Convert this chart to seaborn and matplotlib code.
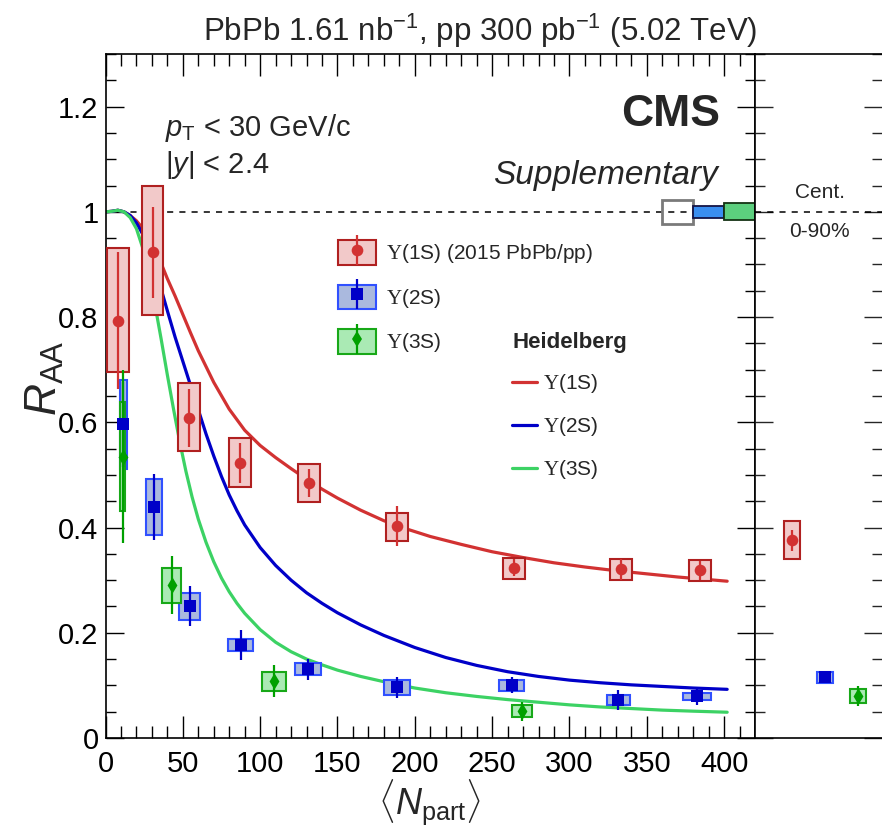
import matplotlib
matplotlib.use("Agg")
import matplotlib.pyplot as plt
import numpy as np
import pandas as pd
import seaborn as sns
from matplotlib.patches import Rectangle
from matplotlib.lines import Line2D
from matplotlib.legend_handler import HandlerTuple
from matplotlib.ticker import MultipleLocator, FuncFormatter

# ---------------- data ----------------
npart_1s = [8.3, 30.5, 54.0, 87.1, 131.5, 188.6, 264.3, 333.2, 384.3]
raa_1s = [0.793, 0.923, 0.609, 0.523, 0.485, 0.402, 0.324, 0.321, 0.319]
stat_1s = [0.130, 0.086, 0.055, 0.038, 0.027, 0.038, 0.016, 0.020, 0.018]
syst_dn_1s = [0.098, 0.119, 0.063, 0.046, 0.036, 0.027, 0.022, 0.021, 0.021]
syst_up_1s = [0.139, 0.127, 0.065, 0.047, 0.035, 0.026, 0.019, 0.019, 0.019]
boxw_1s = [7.2, 7.0, 7.0, 7.2, 7.2, 7.2, 7.2, 7.2, 7.2]

npart_2s = [11.5, 31.4, 54.4, 87.4, 131.1, 188.2, 262.6, 331.7, 382.5]
raa_2s = [0.596, 0.439, 0.250, 0.177, 0.131, 0.096, 0.100, 0.072, 0.079]
stat_2s = [0.080, 0.062, 0.038, 0.028, 0.020, 0.020, 0.015, 0.019, 0.017]
syst_2s = [0.084, 0.053, 0.025, 0.012, 0.011, 0.014, 0.011, 0.009, 0.006]
boxw_2s = [2.2, 5.3, 7.0, 7.9, 8.4, 8.4, 7.9, 7.3, 9.2]

npart_3s = [11.1, 42.8, 109.1, 269.4]
raa_3s = [0.535, 0.290, 0.108, 0.051]
stat_3s = [0.165, 0.055, 0.030, 0.018]
syst_3s = [0.104, 0.034, 0.018, 0.012]
boxw_3s = [1.8, 6.0, 7.9, 6.3]

# integrated (Cent. 0-90%)
states_int = ["1S", "2S", "3S"]
raa_int = [0.376, 0.115, 0.080]
stat_int = [0.020, 0.010, 0.019]
syst_int = [0.036, 0.010, 0.013]

# global uncertainties drawn at R_AA = 1 (pp / 2S / 3S)
global_unc = [0.023, 0.012, 0.016]

# Heidelberg model curves
model_1s_n = [0, 4, 8, 12, 16, 20, 24, 28, 32, 36, 40, 45, 50, 55, 60, 70, 80, 90,
              100, 110, 120, 130, 140, 150, 165, 180, 195, 210, 230, 250, 270, 290,
              310, 330, 350, 370, 390, 402]
model_1s_r = [1.000, 1.001, 1.003, 1.000, 0.993, 0.983, 0.969, 0.951, 0.929, 0.902,
              0.873, 0.840, 0.805, 0.770, 0.736, 0.676, 0.625, 0.585, 0.556, 0.533,
              0.512, 0.492, 0.473, 0.456, 0.433, 0.413, 0.397, 0.383, 0.368, 0.354,
              0.343, 0.333, 0.325, 0.318, 0.312, 0.306, 0.301, 0.298]
model_2s_n = [0, 4, 8, 12, 16, 20, 24, 28, 32, 36, 40, 45, 50, 55, 60, 65, 70, 75,
              80, 85, 90, 100, 110, 120, 130, 140, 150, 165, 180, 200, 220, 240, 260,
              280, 300, 320, 340, 360, 380, 402]
model_2s_r = [1.000, 1.001, 1.003, 1.000, 0.993, 0.979, 0.958, 0.929, 0.893, 0.853,
              0.812, 0.762, 0.716, 0.670, 0.624, 0.578, 0.536, 0.497, 0.462, 0.432,
              0.405, 0.362, 0.328, 0.300, 0.276, 0.256, 0.238, 0.215, 0.195, 0.172,
              0.153, 0.138, 0.126, 0.117, 0.110, 0.105, 0.101, 0.098, 0.095, 0.0925]
model_3s_n = [0, 4, 8, 12, 16, 20, 24, 28, 32, 36, 40, 44, 48, 52, 56, 60, 65, 70,
              75, 80, 85, 90, 100, 110, 120, 130, 140, 150, 165, 180, 200, 220, 240,
              260, 280, 300, 320, 340, 360, 380, 402]
model_3s_r = [1.000, 1.001, 1.003, 1.000, 0.989, 0.968, 0.932, 0.882, 0.823, 0.758,
              0.690, 0.625, 0.563, 0.507, 0.458, 0.416, 0.372, 0.335, 0.304, 0.278,
              0.256, 0.237, 0.206, 0.182, 0.164, 0.150, 0.139, 0.129, 0.117, 0.107,
              0.095, 0.086, 0.079, 0.073, 0.068, 0.063, 0.059, 0.056, 0.053, 0.051,
              0.049]

xticks = [0, 50, 100, 150, 200, 250, 300, 350, 400]
yticks = [0, 0.2, 0.4, 0.6, 0.8, 1.0, 1.2]

# ---------------- style ----------------
sns.set_theme(style="ticks")
plt.rcParams["font.family"] = ["Liberation Sans", "DejaVu Sans"]
plt.rcParams["mathtext.fontset"] = "custom"
plt.rcParams["mathtext.rm"] = "Liberation Sans"
plt.rcParams["mathtext.it"] = "Liberation Sans:italic"
plt.rcParams["mathtext.bf"] = "Liberation Sans:bold"
plt.rcParams["mathtext.sf"] = "Liberation Serif"
plt.rcParams["axes.linewidth"] = 1.2

C1 = dict(mk="#d23232", fill="#f2c9c9", edge="#b02020", line="#d23232")
C2 = dict(mk="#0000c8", fill="#aab9de", edge="#3050ff", line="#0000c8")
C3 = dict(mk="#00a000", fill="#aaeab4", edge="#18a818", line="#3cd264")

W, H = 882, 833
fig = plt.figure(figsize=(W / 100, H / 100), dpi=100)
x0, x1, y0, y1 = 105.5, 755, 738, 54
ax = fig.add_axes([x0 / W, (H - y0) / H, (x1 - x0) / W, (y0 - y1) / H])
axr = fig.add_axes([x1 / W, (H - y0) / H, (W - x1) / W, (y0 - y1) / H])

ax.set_xlim(0, 420)
ax.set_ylim(0, 1.3)
axr.set_xlim(-0.12, 3.73)
axr.set_ylim(0, 1.3)

# reference line at 1
for a in (ax, axr):
    a.axhline(1.0, color="black", lw=1.1, ls=(0, (4, 4)), zorder=1)


def draw_series(a, xs, ys, stat, sdn, sup, hw, col, marker, size):
    for x, y, d, u, w in zip(xs, ys, sdn, sup, hw):
        a.add_patch(Rectangle((x - w, y - d), 2 * w, d + u, facecolor=col["fill"],
                              edgecolor=col["edge"], lw=1.5, zorder=3))
    a.errorbar(xs, ys, yerr=stat, fmt="none", ecolor=col["mk"], elinewidth=1.6,
               capsize=0, zorder=4)
    sns.scatterplot(x=xs, y=ys, marker=marker, s=size, color=col["mk"],
                    edgecolor=col["mk"], linewidth=0, ax=a, zorder=5, legend=False)


# model curves
for nn, rr, col in ((model_1s_n, model_1s_r, C1), (model_2s_n, model_2s_r, C2),
                    (model_3s_n, model_3s_r, C3)):
    sns.lineplot(x=nn, y=rr, color=col["line"], lw=2.3, ax=ax, estimator=None,
                 zorder=2, solid_joinstyle="round")

draw_series(ax, npart_1s, raa_1s, stat_1s, syst_dn_1s, syst_up_1s, boxw_1s, C1, "o", 70)
draw_series(ax, npart_2s, raa_2s, stat_2s, syst_2s, syst_2s, boxw_2s, C2, "s", 64)
draw_series(ax, npart_3s, raa_3s, stat_3s, syst_3s, syst_3s, boxw_3s, C3, "d", 70)

# global uncertainty boxes at the right edge of main panel
xr = ax.get_xlim()[1]
gw = 20
gstyles = [dict(fc="none", ec="#7a7a7a", lw=2.0),
           dict(fc="#3a8ef0", ec="#141446", lw=1.3),
           dict(fc="#5ccf7e", ec="#143214", lw=1.3)]
for i, (g, st) in enumerate(zip(global_unc, gstyles)):
    left = xr - gw * (len(global_unc) - i)
    ax.add_patch(Rectangle((left, 1 - g), gw, 2 * g, zorder=6, **st))

# integrated panel
pos = [1, 2, 3]
for p, r, s, sy, col, mk, sz in zip(pos, raa_int, stat_int, syst_int, (C1, C2, C3),
                                    ("o", "s", "d"), (70, 64, 70)):
    draw_series(axr, [p], [r], [s], [sy], [sy], [0.24], col, mk, sz)

# ---------------- axes cosmetics ----------------
ax.set_xticks(xticks)
ax.set_yticks(yticks)
ax.xaxis.set_minor_locator(MultipleLocator(10))
ax.yaxis.set_minor_locator(MultipleLocator(0.05))
ax.yaxis.set_major_formatter(FuncFormatter(lambda v, p: f"{v:g}"))
ax.tick_params(which="both", direction="in", top=True, right=True, colors="black",
               labelsize=21)
ax.tick_params(axis="x", which="major", length=16, width=1.0, pad=9)
ax.tick_params(axis="x", which="minor", length=8.5, width=1.0)
ax.tick_params(axis="y", which="major", length=13, width=1.0, pad=5)
ax.tick_params(axis="y", which="minor", length=7, width=1.0)
ax.set_xlabel("")
ax.set_ylabel("")

axr.set_xticks([])
axr.yaxis.set_minor_locator(MultipleLocator(0.05))
axr.set_yticks(yticks)
axr.tick_params(axis="y", which="both", direction="in", left=True, right=True,
                labelleft=False, labelright=False)
axr.tick_params(axis="y", which="major", length=13, width=1.0)
axr.tick_params(axis="y", which="minor", length=7, width=1.0)
axr.spines["right"].set_visible(False)
for a in (ax, axr):
    for sp in a.spines.values():
        sp.set_color("black")
        sp.set_linewidth(1.2)

# ---------------- texts ----------------
fig.text(757 / W, 1 - 31 / H, r"PbPb 1.61 nb$^{-1}$, pp 300 pb$^{-1}$ (5.02 TeV)",
         ha="right", va="center", fontsize=22.5)
fig.text(430 / W, 1 - 778 / H, r"$\langle N_{\mathrm{part}}\rangle$", ha="center",
         va="top", fontsize=26)
fig.text(45 / W, 1 - 378 / H, r"$R_{\mathrm{AA}}$", ha="center", va="center",
         rotation=90, fontsize=32)

ax.text(0.946, 0.911, "CMS", transform=ax.transAxes, ha="right", va="center",
        fontsize=32, fontweight="bold")
ax.text(0.943, 0.823, "Supplementary", transform=ax.transAxes, ha="right",
        va="center", fontsize=24, style="italic")
ax.text(0.092, 0.892, r"$p_{\mathrm{T}}$ < 30 GeV/c", transform=ax.transAxes,
        ha="left", va="center", fontsize=21)
ax.text(0.092, 0.838, r"|$y$| < 2.4", transform=ax.transAxes, ha="left",
        va="center", fontsize=21)

axr.text(0.51, 0.798, "Cent.", transform=axr.transAxes, ha="center", va="center",
         fontsize=15)
axr.text(0.51, 0.740, "0-90%", transform=axr.transAxes, ha="center", va="center",
         fontsize=15)

# ---------------- legends ----------------
def data_handle(col, marker, ms):
    box = Rectangle((0, 0), 1, 1, facecolor=col["fill"], edgecolor=col["edge"], lw=1.5)
    bar = Line2D([], [], ls="none", marker="|", ms=21, mew=1.6, color=col["mk"])
    pt = Line2D([], [], ls="none", marker=marker, ms=ms, color=col["mk"], mew=0)
    return (box, bar, pt)


ups = r"$\mathsf{\Upsilon}$"
h1 = [data_handle(C1, "o", 8.4), data_handle(C2, "s", 8), data_handle(C3, "d", 8.4)]
l1 = [ups + "(1S) (2015 PbPb/pp)", ups + "(2S)", ups + "(3S)"]
leg1 = ax.legend(h1, l1, loc="upper left", bbox_to_anchor=(0.358, 0.728),
                 frameon=False, fontsize=15, handlelength=1.83, handleheight=1.44,
                 labelspacing=0.93, handletextpad=0.45, borderpad=0, borderaxespad=0,
                 numpoints=1, handler_map={tuple: HandlerTuple(ndivide=1, pad=0)})
ax.add_artist(leg1)

h2 = [Line2D([], [], color=C1["line"], lw=2.3), Line2D([], [], color=C2["line"], lw=2.3),
      Line2D([], [], color=C3["line"], lw=2.3)]
l2 = [ups + "(1S)", ups + "(2S)", ups + "(3S)"]
leg2 = ax.legend(h2, l2, title="Heidelberg", loc="upper left",
                 bbox_to_anchor=(0.626, 0.594), frameon=False, fontsize=15,
                 title_fontsize=16, handlelength=1.2, handletextpad=0.3,
                 labelspacing=0.95, borderpad=0, borderaxespad=0, alignment="left")
leg2.get_title().set_fontweight("bold")

fig.savefig("out.png", dpi=100)
